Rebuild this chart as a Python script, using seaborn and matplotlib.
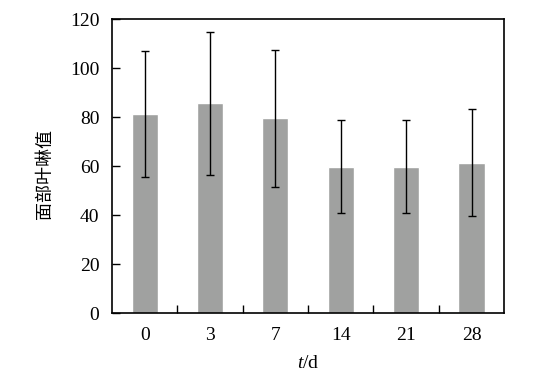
import numpy as np
import pandas as pd
import matplotlib
matplotlib.use('Agg')
import matplotlib.pyplot as plt
import seaborn as sns

# Werte
days = ['0', '3', '7', '14', '21', '28']
means = [81.5, 85.8, 79.6, 59.9, 59.9, 61.5]
sd = [25.8, 29.2, 28.0, 19.0, 19.0, 21.8]

df = pd.DataFrame({'t': days, 'wert': means})

sns.set_style('ticks')
plt.rcParams['font.family'] = ['Liberation Serif', 'Noto Sans CJK SC']
plt.rcParams['mathtext.fontset'] = 'custom'
plt.rcParams['mathtext.it'] = 'Liberation Serif:italic'
plt.rcParams['mathtext.rm'] = 'Liberation Serif'
plt.rcParams['text.color'] = 'black'
plt.rcParams['axes.labelcolor'] = 'black'
plt.rcParams['xtick.color'] = 'black'
plt.rcParams['ytick.color'] = 'black'

fig = plt.figure(figsize=(5.41, 3.74), dpi=100)
ax = fig.add_axes([0.207, 0.162, 0.725, 0.786])

sns.barplot(data=df, x='t', y='wert', color='#a0a1a0', saturation=1,
            width=0.4, errorbar=None, ax=ax)
ax.errorbar(np.arange(len(days)), means, yerr=sd, fmt='none',
            ecolor='black', elinewidth=1, capsize=3.2, capthick=1)

ax.set_ylim(0, 120)
ax.set_xlim(-0.5, 5.5)
ax.set_yticks(np.arange(0, 121, 20))

# Ticks zwischen den Balken
ax.set_xticks(np.arange(0.5, 5, 1), minor=True)
ax.tick_params(axis='x', which='major', length=0, pad=10, labelsize=14)
ax.tick_params(axis='x', which='minor', direction='in', length=6, width=1)
ax.tick_params(axis='y', direction='in', length=6, width=1, pad=9, labelsize=14)

for s in ax.spines.values():
    s.set_visible(True)
    s.set_linewidth(1.2)
    s.set_color('black')

ax.set_xlabel(r'$t$/d', fontsize=14, labelpad=8)
ax.set_ylabel('面部叶啉值', fontsize=13, family=['Noto Sans CJK SC'])
ax.yaxis.set_label_coords(-0.148, 0.474)

plt.savefig('out.png', dpi=100)
